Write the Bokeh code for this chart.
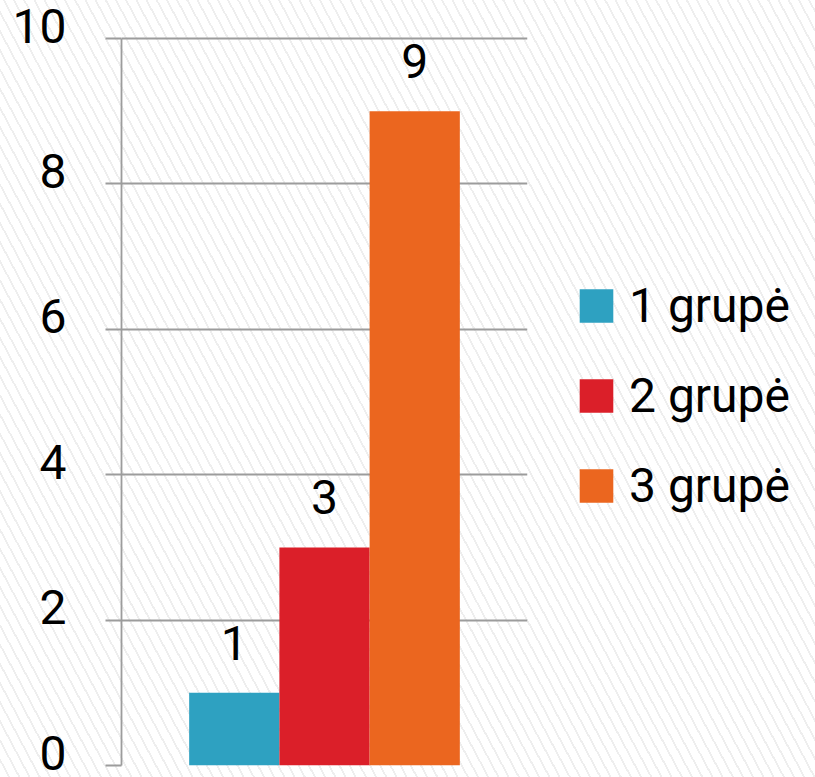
from bokeh.plotting import figure
from bokeh.models import (ColumnDataSource, FactorRange, Range1d, Legend, LegendItem,
                          LabelSet, FixedTicker, LinearAxis)
from bokeh.embed import file_html
from bokeh.resources import INLINE
from bokeh.core.properties import value

groups = ["1 grupė", "2 grupė", "3 grupė"]
counts = [1, 3, 9]
colors = ["#2ea1c1", "#db1f29", "#eb661f"]
y_ticks = [0, 2, 4, 6, 8, 10]

FONT = "Roboto"
GRID = "#9c9c9c"
Y_MAX = 10
PX_PER_UNIT = 72.7
LABEL_LIFT_PX = 13  # tick labels sit a little above their grid lines in the original
lift = LABEL_LIFT_PX / PX_PER_UNIT
frame_h = round((Y_MAX + lift) * PX_PER_UNIT)

src = ColumnDataSource(dict(group=groups, count=counts, color=colors,
                            label=[str(c) for c in counts]))

p = figure(width=815, height=777, frame_width=406, frame_height=frame_h,
           x_range=FactorRange(factors=groups, range_padding=0.75,
                               range_padding_units="absolute"),
           y_range=Range1d(0, Y_MAX + lift),
           output_backend="svg", toolbar_location=None,
           min_border_left=121, min_border_right=288,
           min_border_top=777 - 12 - frame_h, min_border_bottom=12)

p.background_fill_alpha = 0
p.border_fill_alpha = 0
p.outline_line_color = None
p.styles = {"background": "repeating-linear-gradient(62deg, #ffffff 0px, #ffffff 7.2px, #eeeeee 7.2px, #eeeeee 9px)"}

bars = p.vbar(x="group", top="count", width=1.0, fill_color="color",
              line_color=None, source=src)

p.xaxis.visible = False
p.xgrid.visible = False

# main axis: line + outward ticks, no labels
p.yaxis.ticker = FixedTicker(ticks=y_ticks)
p.yaxis.bounds = (min(y_ticks), max(y_ticks))
p.ygrid.ticker = FixedTicker(ticks=y_ticks)
p.ygrid.grid_line_color = GRID
p.ygrid.grid_line_width = 1.8
p.yaxis.axis_line_color = GRID
p.yaxis.axis_line_width = 1.8
p.yaxis.major_tick_line_color = GRID
p.yaxis.major_tick_line_width = 1.8
p.yaxis.major_tick_out = 16
p.yaxis.major_tick_in = 0
p.yaxis.minor_tick_line_color = None
p.yaxis.major_label_standoff = 0
p.yaxis.major_label_overrides = {t: "" for t in y_ticks}

# label axis: same scale, lifted by a few pixels
p.extra_y_ranges = {"labels": Range1d(-lift, Y_MAX)}
lab_axis = LinearAxis(y_range_name="labels", ticker=FixedTicker(ticks=y_ticks),
                      axis_line_color=None, major_tick_line_color=None,
                      minor_tick_line_color=None, major_tick_in=0, major_tick_out=0,
                      major_label_standoff=39,
                      major_label_text_font=FONT, major_label_text_font_size="48px",
                      major_label_text_color="#000000")
p.add_layout(lab_axis, "left")

labels = LabelSet(x="group", y="count", text="label", source=src,
                  text_align="center", text_baseline="alphabetic", y_offset=33,
                  text_font=value(FONT), text_font_size="48px", text_color="#000000")
p.add_layout(labels)

items = [LegendItem(label=g, renderers=[bars], index=i) for i, g in enumerate(groups)]
legend = Legend(items=items, location=(48, 258), orientation="vertical",
                glyph_width=42, glyph_height=42, label_height=42,
                label_standoff=12, spacing=33, padding=0, margin=0,
                label_text_font=FONT, label_text_font_size="48px",
                label_text_color="#000000",
                border_line_color=None, background_fill_alpha=0)
legend.location = "center_left"
legend.margin = 48
p.add_layout(legend, "right")

open("out.html", "w").write(file_html(p, INLINE))
